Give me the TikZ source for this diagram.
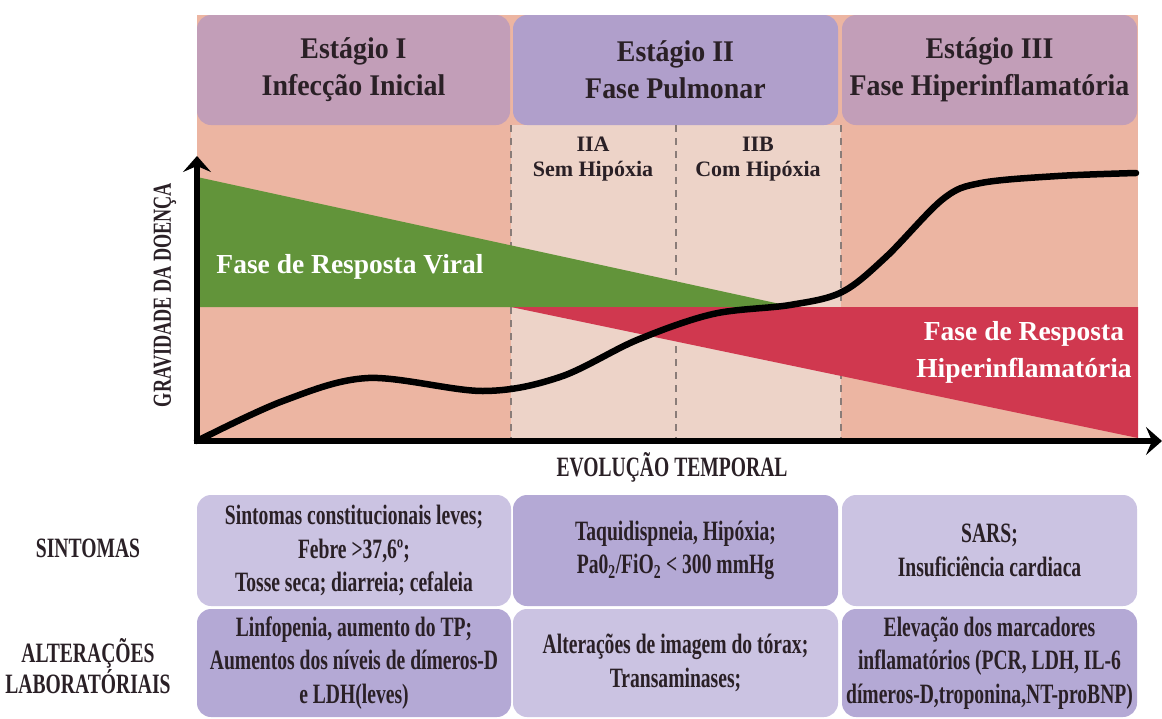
\documentclass[tikz,border=0pt]{standalone}
\usepackage{fontspec}
\setmainfont{Liberation Serif}
\newfontfamily\headserif{Liberation Serif}[FakeStretch=0.93]
\newfontfamily\narrowserif{Liberation Serif}[FakeStretch=0.7]
\usetikzlibrary{arrows.meta}
\definecolor{bgsalmon}{HTML}{ECB5A2}
\definecolor{bglight}{HTML}{EDD3C8}
\definecolor{stagemauve}{HTML}{C29EB8}
\definecolor{stagepurple}{HTML}{B09FCB}
\definecolor{virgreen}{HTML}{62943A}
\definecolor{infred}{HTML}{D0384F}
\definecolor{celllight}{HTML}{CBC3E2}
\definecolor{celldark}{HTML}{B4A9D5}
\definecolor{inkdark}{HTML}{2A2026}
\definecolor{dashgray}{HTML}{8A7C78}
\begin{document}
\begin{tikzpicture}[x=1pt,y=-1pt]
    \tikzset{stage/.style = {rounded corners=14pt, minimum height=110pt, inner sep=0pt, align=center, text=inkdark, font=\headserif\bfseries\fontsize{30}{37}\selectfont},
        cell/.style = {rounded corners=14pt, inner sep=0pt, align=center, text=inkdark, font=\narrowserif\bfseries\fontsize{28}{33.5}\selectfont},
        sidelabel/.style = {align=center, text=inkdark, font=\narrowserif\bfseries\fontsize{28}{24}\selectfont},
        substage/.style = {align=center, text=inkdark, font=\bfseries\fontsize{22}{25}\selectfont},
        phase/.style = {align=center, text=white, font=\bfseries\fontsize{27.5}{37}\selectfont},
        divider/.style = {dashgray, line width=1.2pt, dash pattern=on 7pt off 6pt},
        axis/.style = {line width=6pt, -{Stealth[length=16pt, width=28pt, inset=6pt]}},
        curve/.style = {line width=6.5pt, line cap=round}}
    \def\top{15}
    \def\bot{441}
    \useasboundingbox (0,0) rectangle (1162,718);
    % backgrounds of the three stages
    \fill[bgsalmon] (197,\top) rectangle (1138,\bot);
    \fill[bglight] (511,125) rectangle (841,\bot);
    \node[stage, fill=stagemauve, minimum width=313pt] (st1) at (353.5,70) {Estágio I\\Infecção Inicial};
    \node[stage, fill=stagepurple, minimum width=325pt] (st2) at (675.5,70) {Estágio II\\Fase Pulmonar};
    \node[stage, fill=stagemauve, minimum width=295pt] (st3) at (989.5,70) {Estágio III\\Fase Hiperinflamatória};
    \draw[divider] (511,125) -- (511,\bot);
    \draw[divider] (676,125) -- (676,\bot);
    \draw[divider] (841,125) -- (841,\bot);
    \node[substage] (iia) at (593,159) {IIA\\Sem Hipóxia};
    \node[substage] (iib) at (758,159) {IIB\\Com Hipóxia};
    % response phases
    \fill[virgreen] (197,177) -- (794,307) -- (197,307) -- cycle;
    \fill[infred] (511,307) -- (1138,307) -- (1138,438) -- cycle;
    \node[phase] (viral) at (350,267) {Fase de Resposta Viral};
    \node[phase] (hiper) at (1024,352) {Fase de Resposta\\Hiperinflamatória};
    % severity curve
    \draw[curve] plot[smooth, tension=0.55] coordinates {(197,441) (283,401) (368,378) (483,391) (560,377) (637,340) (713,314) (790,305) (842,292) (886,257) (943,199) (981,183) (1058,176) (1136,173)};
    % axes
    \coordinate (o) at (197,\bot);
    \coordinate (ytip) at (197,156);
    \coordinate (xtip) at (1162,\bot);
    \draw[axis] (o) -- (ytip);
    \draw[axis] ([xshift=-3pt]o) -- (xtip);
    \node[sidelabel, rotate=90, font=\narrowserif\bfseries\fontsize{26}{30}\selectfont] (ylab) at (165,295) {GRAVIDADE DA DOENÇA};
    \node[sidelabel] (xlab) at (672,467) {EVOLUÇÃO TEMPORAL};
    % symptoms and lab findings
    \node[sidelabel] (symlab) at (88,548) {SINTOMAS};
    \node[sidelabel] (lablab) at (88,666) {ALTERAÇÕES\\LABORATÓRIAIS};
    \node[cell, fill=celllight, minimum width=314pt, minimum height=111pt] (c11) at (354,550.5) {Sintomas constitucionais leves;\\Febre >37,6º;\\Tosse seca; diarreia; cefaleia};
    \node[cell, fill=celldark, minimum width=325pt, minimum height=111pt] (c12) at (675.5,550.5) {Taquidispneia, Hipóxia;\\Pa0\textsubscript{2}/FiO\textsubscript{2} < 300 mmHg};
    \node[cell, fill=celllight, minimum width=295pt, minimum height=111pt] (c13) at (989.5,550.5) {SARS;\\Insuficiência cardiaca};
    \node[cell, fill=celldark, minimum width=314pt, minimum height=108pt] (c21) at (354,663) {Linfopenia, aumento do TP;\\Aumentos dos níveis de dímeros-D\\e LDH(leves)};
    \node[cell, fill=celllight, minimum width=325pt, minimum height=108pt] (c22) at (675.5,663) {Alterações de imagem do tórax;\\Transaminases;};
    \node[cell, fill=celldark, minimum width=295pt, minimum height=108pt] (c23) at (989.5,663) {Elevação dos marcadores\\inflamatórios (PCR, LDH, IL-6\\dímeros-D,troponina,NT-proBNP)};
\end{tikzpicture}
\end{document}
